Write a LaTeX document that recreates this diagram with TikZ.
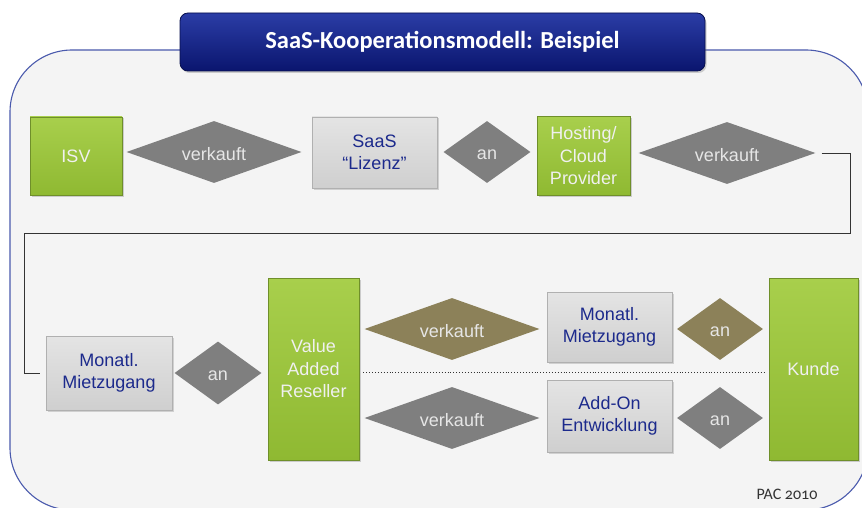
\documentclass[tikz,border=0pt]{standalone}
\usepackage{fontspec}
\setmainfont{Liberation Sans}
\newfontfamily\titlefont{Carlito}
\newfontfamily\pacfont[Numbers=OldStyle]{Carlito}
\usetikzlibrary{shapes.geometric,shadows}
\definecolor{framecol}{HTML}{4A5AAD}
\definecolor{framefill}{HTML}{F4F4F4}
\definecolor{greentop}{HTML}{A8CF4C}
\definecolor{greenbot}{HTML}{8FB932}
\definecolor{greenedge}{HTML}{6F8F2A}
\definecolor{graytop}{HTML}{E4E4E4}
\definecolor{graybot}{HTML}{CFCFCF}
\definecolor{grayedge}{HTML}{B0B0B0}
\definecolor{diagray}{HTML}{7F7F7F}
\definecolor{diaolive}{HTML}{8C8159}
\definecolor{diatext}{HTML}{E6E6E6}
\definecolor{navytext}{HTML}{1C2A8C}
\definecolor{titletop}{HTML}{2B3DA6}
\definecolor{titlebot}{HTML}{0A156E}
\tikzset{
  x=1pt, y=-1pt,
  base/.style={font=\fontsize{18}{22.5}\selectfont, align=center, inner sep=2pt},
  greenbox/.style={base, rectangle, top color=greentop, bottom color=greenbot, draw=greenedge, line width=0.8pt, text=white!94!black,
    drop shadow={shadow xshift=1.5pt, shadow yshift=-1.5pt, opacity=0.35}},
  graybox/.style={base, rectangle, top color=graytop, bottom color=graybot, draw=grayedge, line width=0.6pt, text=navytext,
    drop shadow={shadow xshift=1.5pt, shadow yshift=-1.5pt, opacity=0.3}},
  diabase/.style={diamond, inner sep=0pt, draw=none, label={[base, text=diatext, anchor=center, yshift=-2.5pt]center:#1}},
  graydia/.style={diabase=#1, fill=diagray},
  olivedia/.style={diabase=#1, fill=diaolive},
}
\begin{document}
\begin{tikzpicture}
\useasboundingbox (0,0) rectangle (862,508);
\fill[white] (0,0) rectangle (862,508);
% frame
\begin{scope}
  \clip (0,0) rectangle (862,508);
  \draw[framecol, line width=1.1pt, fill=framefill, rounded corners=62pt] (10,50) rectangle (868,510);
\end{scope}
% title
\node[rectangle, rounded corners=8pt, top color=titletop, bottom color=titlebot, draw=titlebot!70!black, line width=0.8pt,
  minimum width=525pt, minimum height=58pt, text=white,
  font=\titlefont\bfseries\fontsize{24.5}{28}\selectfont,
  drop shadow={shadow xshift=1.5pt, shadow yshift=-2pt, opacity=0.35}] (title) at (442.5,42) {SaaS-Kooperationsmodell: Beispiel};
% row 1
\node[greenbox, minimum width=92pt, minimum height=78pt] (isv) at (76,156) {ISV};
\node[graydia=verkauft, minimum width=175pt, minimum height=62pt] (d1) at (214,152) {};
\node[graybox, minimum width=125pt, minimum height=71pt] (lizenz) at (374.5,152.5) {SaaS\\“Lizenz”};
\node[graydia=an, minimum width=87pt, minimum height=62pt] (d2) at (487,152) {};
\node[greenbox, minimum width=93pt, minimum height=79pt] (host) at (583.5,156) {Hosting/\\Cloud\\Provider};
\node[graydia=verkauft, minimum width=177pt, minimum height=62pt] (d3) at (727,153) {};
% row 2
\node[graybox, minimum width=126pt, minimum height=74pt] (mon1) at (109,373) {Monatl.\\Mietzugang};
\node[graydia=an, minimum width=87pt, minimum height=63pt] (d4) at (218,373) {};
\node[greenbox, minimum width=91pt, minimum height=182pt] (var) at (313.5,369) {Value\\Added\\Reseller};
\node[olivedia=verkauft, minimum width=175pt, minimum height=62pt] (d5) at (452,329) {};
\node[graybox, minimum width=125pt, minimum height=70pt] (mon2) at (609.5,327) {Monatl.\\Mietzugang};
\node[olivedia=an, minimum width=86pt, minimum height=62pt] (d6) at (720,329) {};
\node[greenbox, minimum width=89pt, minimum height=182pt] (kunde) at (813.5,369) {Kunde};
\node[graydia=verkauft, minimum width=175pt, minimum height=62pt] (d7) at (452,418) {};
\node[graybox, minimum width=125pt, minimum height=72pt] (addon) at (609.5,416) {Add-On\\Entwicklung};
\node[graydia=an, minimum width=86pt, minimum height=62pt] (d8) at (720,418) {};
% connectors
\coordinate (c1) at (850,233);
\coordinate (c2) at (24,233);
\draw[black!80, line width=0.8pt] ([xshift=6pt]d3.east) -| (c1) -- (c2) |- ([xshift=-6pt]mon1.west);
\draw[black!80, line width=0.9pt, dotted] ([yshift=-3pt,xshift=4pt]var.east) -- ([yshift=-3pt,xshift=-4pt]kunde.west);
% footer
\node[font=\pacfont\fontsize{16}{18}\selectfont, text=black!80, inner sep=0pt] (pac) at (787,494) {PAC 2010};
\end{tikzpicture}
\end{document}
